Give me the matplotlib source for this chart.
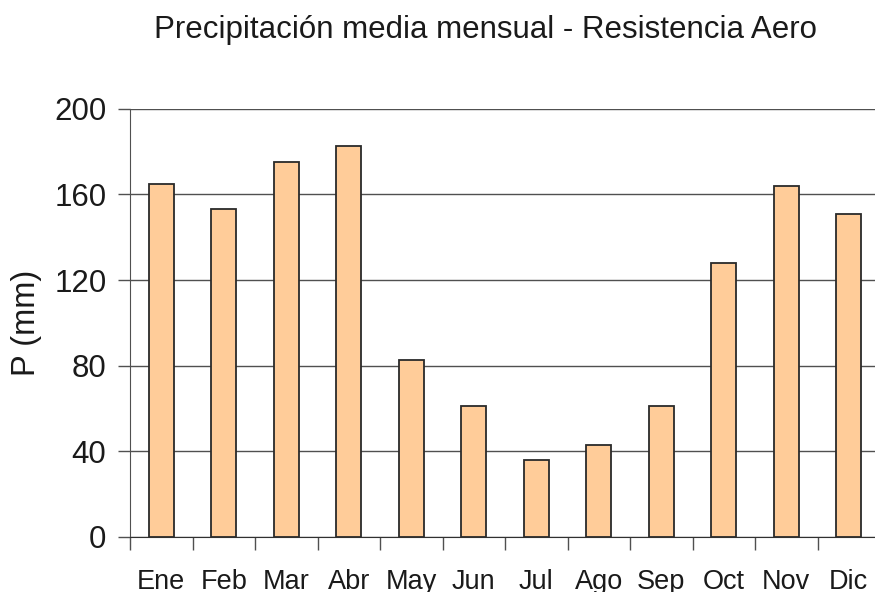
import matplotlib.pyplot as plt
import numpy as np

plt.rcParams['font.family'] = ['Liberation Sans', 'DejaVu Sans']

# --- Data -------------------------------------------------------------------------------------------------------------
meses = ['Ene', 'Feb', 'Mar', 'Abr', 'May', 'Jun', 'Jul', 'Ago', 'Sep', 'Oct', 'Nov', 'Dic']
precip = [165, 153, 175, 182.4, 82.5, 61.3, 36.1, 43.1, 61.0, 127.8, 163.9, 150.9]
yticks = [0, 40, 80, 120, 160, 200]

# --- Plot -------------------------------------------------------------------------------------------------------------
W, H = 875, 592
fig = plt.figure(figsize=(W / 100, H / 100), dpi=100)
ax = fig.add_axes([130 / W, (H - 537) / H, 750 / W, (537 - 108.7) / H])

x = np.arange(len(meses))
ax.bar(x, precip, width=0.4, color='#FFCC99', edgecolor='#2a2a2a', linewidth=1.3, zorder=3)

ax.set_xlim(-0.5, len(meses) - 0.5)
ax.set_ylim(0, 200)
ax.set_yticks(yticks)
ax.yaxis.grid(True, color='#505050', linewidth=1.0, zorder=0)

# category boundaries as major ticks, names as minor ticks
ax.set_xticks(np.arange(len(meses) + 1) - 0.5)
ax.set_xticklabels([])
ax.set_xticks(x, minor=True)
ax.set_xticklabels(meses, minor=True)
ax.tick_params(axis='x', which='major', direction='out', length=9, width=1, color='#505050')
ax.tick_params(axis='x', which='minor', length=0, pad=23, labelsize=19.5, labelcolor='#1a1a1a')
ax.tick_params(axis='y', direction='out', length=9, width=1, color='#505050', labelsize=22.5,
               labelcolor='#1a1a1a', pad=8)

for s in ['top', 'right']:
    ax.spines[s].set_visible(False)
ax.spines['left'].set_color('#505050')
ax.spines['bottom'].set_color('#303030')

ax.set_ylabel('P (mm)', fontsize=23.5, color='#1a1a1a', labelpad=9)
fig.text(485 / W, 1 - 30 / H, 'Precipitación media mensual - Resistencia Aero', fontsize=22.5,
         ha='center', va='center', color='#1a1a1a')

plt.savefig('out.png', dpi=100)
